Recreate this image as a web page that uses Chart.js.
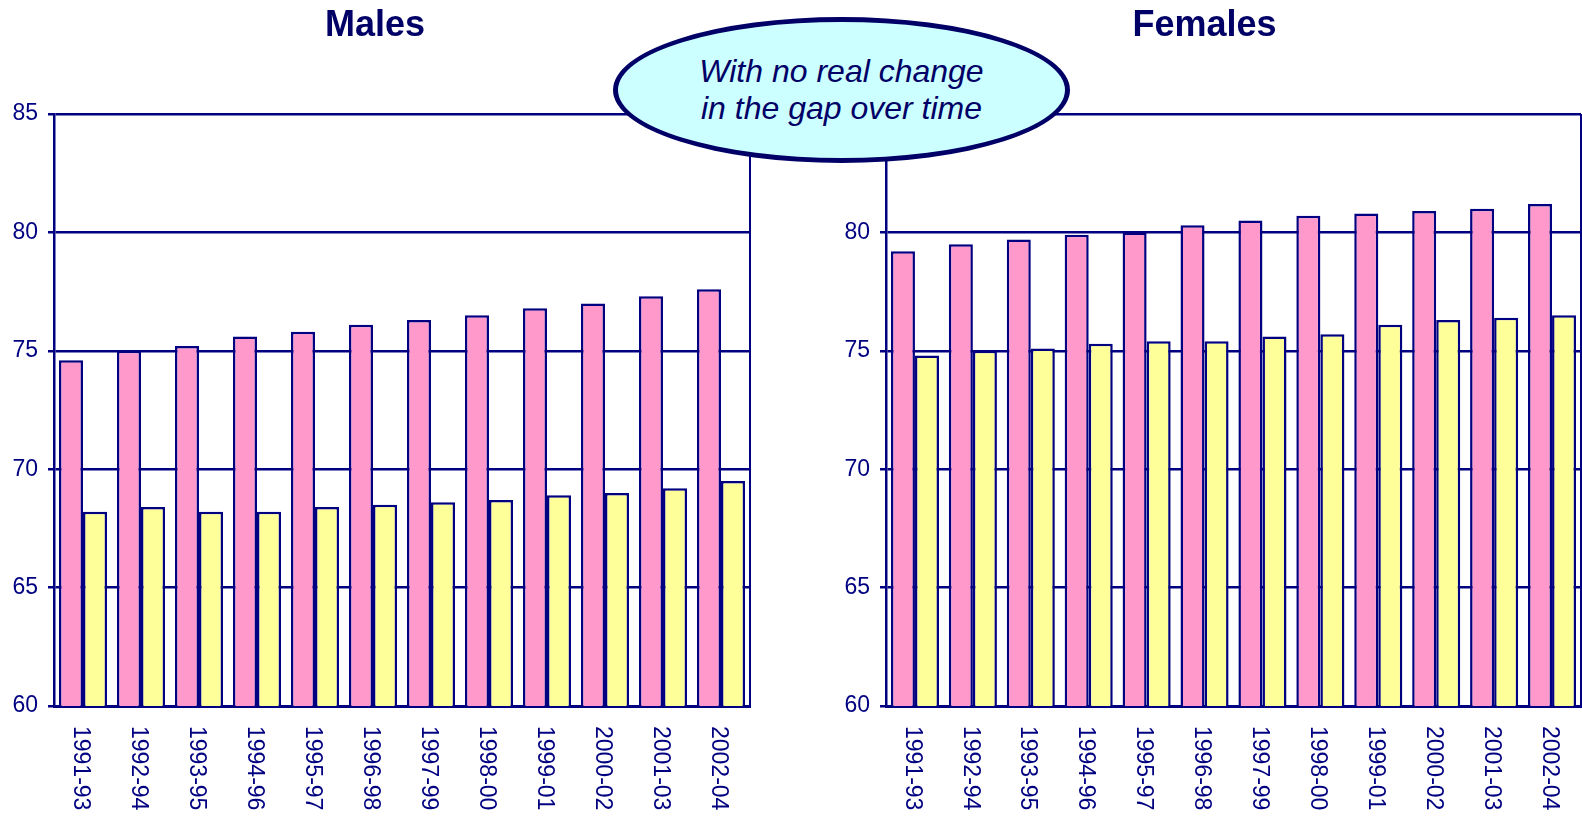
<!DOCTYPE html>
<html>
<head>
<meta charset="utf-8">
<script src="https://cdn.jsdelivr.net/npm/chart.js@4.4.1/dist/chart.umd.min.js"></script>
<style>
  body { margin: 0; background: #fff; width: 1582px; height: 818px; overflow: hidden; position: relative; font-family: "Liberation Sans", Arial, sans-serif; }
  canvas { position: absolute; top: 0; }
  #males { left: 0; }
  #females { left: 828px; }
  .bubble {
    position: absolute; left: 613px; top: 17px; width: 457px; height: 146px;
    box-sizing: border-box; border: 5px solid #000066; border-radius: 50%;
    background: #CCFFFF; color: #000066;
    display: flex; align-items: center; justify-content: center; text-align: center;
    font: italic 32px "Liberation Sans", Arial, sans-serif; line-height: 37px;
    z-index: 5;
  }
</style>
</head>
<body>
<canvas id="males" width="752" height="818"></canvas>
<canvas id="females" width="754" height="818"></canvas>
<div class="bubble"><div>With no real change<br>in the gap over time</div></div>
<script>
var categories = ['1991-93', '1992-94', '1993-95', '1994-96', '1995-97', '1996-98',
                  '1997-99', '1998-00', '1999-01', '2000-02', '2001-03', '2002-04'];

var malesPink   = [74.6, 75.0, 75.2, 75.6, 75.8, 76.1, 76.3, 76.5, 76.8, 77.0, 77.3, 77.6];
var malesYellow = [68.2, 68.4, 68.2, 68.2, 68.4, 68.5, 68.6, 68.7, 68.9, 69.0, 69.2, 69.5];

var femalesPink   = [79.2, 79.5, 79.7, 79.9, 80.0, 80.3, 80.5, 80.7, 80.8, 80.9, 81.0, 81.2];
var femalesYellow = [74.8, 75.0, 75.1, 75.3, 75.4, 75.4, 75.6, 75.7, 76.1, 76.3, 76.4, 76.5];

var yMin = 60, yMax = 85, yStep = 5;

var navy = '#000080';
var textNavy = '#000080';
var fontFamily = '"Liberation Sans", Arial, sans-serif';

// x labels read top to bottom, so draw them here off the scale's tick pixels
var frameAndLabels = {
    id: 'frameAndLabels',
    beforeDatasetsDraw: function (chart) {
        var ctx = chart.ctx, a = chart.chartArea;
        ctx.save();
        ctx.strokeStyle = navy;
        ctx.lineWidth = 2;
        ctx.beginPath();
        ctx.moveTo(a.right, a.top);
        ctx.lineTo(a.right, a.bottom);
        ctx.stroke();
        ctx.restore();
    },
    afterDraw: function (chart) {
        var ctx = chart.ctx, xs = chart.scales.x;
        ctx.save();
        ctx.fillStyle = textNavy;
        ctx.font = '23px ' + fontFamily;
        ctx.textAlign = 'left';
        ctx.textBaseline = 'middle';
        chart.data.labels.forEach(function (label, i) {
            ctx.save();
            ctx.translate(xs.getPixelForTick(i) - 3, xs.top + 20);
            ctx.rotate(Math.PI / 2);
            ctx.fillText(label, 0, 0);
            ctx.restore();
        });
        ctx.restore();
    }
};

function makeChart(id, title, pink, yellow, axisWidth, rightPad) {
    return new Chart(document.getElementById(id), {
        type: 'bar',
        data: {
            labels: categories,
            datasets: [
                { label: 'Series 1', data: pink, backgroundColor: '#FF99CC', borderColor: navy, borderWidth: 2.5 },
                { label: 'Series 2', data: yellow, backgroundColor: '#FFFF99', borderColor: navy, borderWidth: 2.5 }
            ]
        },
        options: {
            responsive: false,
            animation: false,
            categoryPercentage: 0.83,
            barPercentage: 1,
            layout: { padding: { left: 0, right: rightPad, top: 0, bottom: 0 } },
            plugins: {
                legend: { display: false },
                tooltip: { enabled: false },
                title: {
                    display: true,
                    text: title,
                    color: '#000066',
                    font: { family: fontFamily, size: 36, weight: 'bold', lineHeight: 1.2 },
                    padding: { top: 4, bottom: 66.8 }
                }
            },
            scales: {
                x: {
                    grid: { display: false },
                    border: { display: true, color: navy, width: 3 },
                    ticks: { display: false },
                    afterFit: function (scale) { scale.height = 112; }
                },
                y: {
                    min: yMin,
                    max: yMax,
                    ticks: { stepSize: yStep, color: textNavy, padding: 10, font: { family: fontFamily, size: 23 } },
                    grid: { color: navy, lineWidth: 2.5, tickLength: 6, drawTicks: true },
                    border: { display: true, color: navy, width: 2.5 },
                    afterFit: function (scale) { scale.width = axisWidth; }
                }
            }
        },
        plugins: [frameAndLabels]
    });
}

makeChart('males', 'Males', malesPink, malesYellow, 54, 2);
makeChart('females', 'Females', femalesPink, femalesYellow, 58, 1);
</script>
</body>
</html>
